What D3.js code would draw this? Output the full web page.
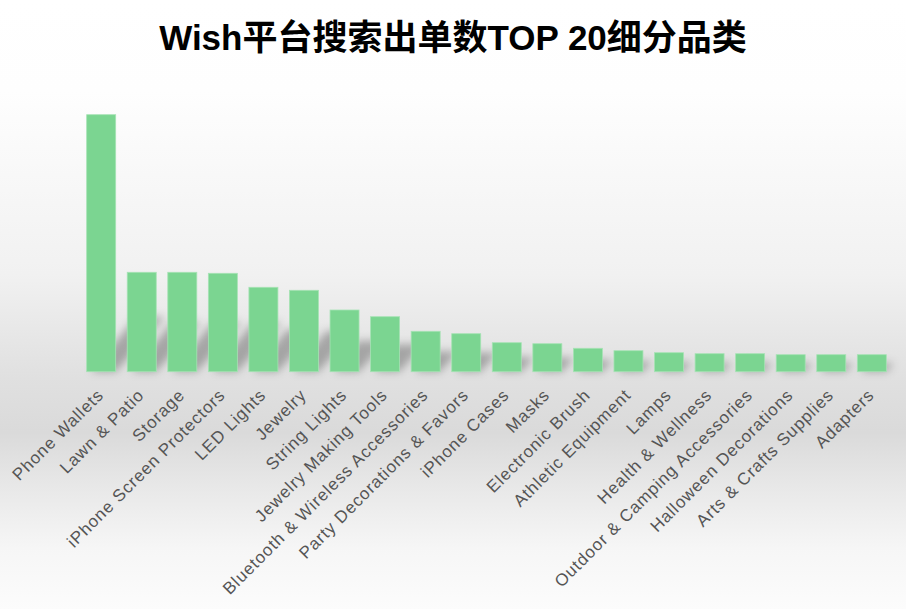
<!DOCTYPE html>
<html>
<head>
<meta charset="utf-8">
<script src="https://cdn.jsdelivr.net/npm/d3@7"></script>
<style>
  html, body { margin: 0; padding: 0; background: #fff; }
  svg { display: block; font-family: "Liberation Sans", Arial, "Noto Sans CJK SC", sans-serif; }
</style>
</head>
<body>
<script>
const width = 906;
const height = 609;

const titleText = "Wish平台搜索出单数TOP 20细分品类";

const categories = [
  "Phone Wallets", "Lawn & Patio", "Storage", "iPhone Screen Protectors", "LED Lights",
  "Jewelry", "String Lights", "Jewelry Making Tools", "Bluetooth & Wireless Accessories",
  "Party Decorations & Favors", "iPhone Cases", "Masks", "Electronic Brush",
  "Athletic Equipment", "Lamps", "Health & Wellness", "Outdoor & Camping Accessories",
  "Halloween Decorations", "Arts & Crafts Supplies", "Adapters"
];

// relative order counts
const orders = [
  2570, 994, 994, 984, 844,
  814, 617, 550, 404,
  380, 290, 280, 234,
  210, 190, 180, 180,
  170, 170, 170
];

const svg = d3.select("body")
  .append("svg").attr("width", width).attr("height", height);

const defs = svg.append("defs");

const bgGradient = defs.append("linearGradient")
  .attr("id", "bgGradient")
  .attr("x1", "0%").attr("y1", "0%")
  .attr("x2", "0%").attr("y2", "100%");
[
  [0, "#ffffff"], [0.15, "#fefefe"], [0.45, "#f1f1f1"], [0.62, "#e0e0e0"],
  [0.71, "#dadada"], [0.8, "#e8e8e8"], [0.9, "#f6f6f6"], [1, "#fcfcfc"]
].forEach(([o, c]) => {
  bgGradient.append("stop").attr("offset", o).attr("stop-color", c);
});

const blur = defs.append("filter")
  .attr("id", "shadowBlur")
  .attr("x", "-50%").attr("y", "-50%")
  .attr("width", "200%").attr("height", "200%");
blur.append("feGaussianBlur").attr("stdDeviation", 4);

svg.append("rect")
  .attr("width", width).attr("height", height)
  .attr("fill", "url(#bgGradient)");

const baseY = 371.7;
const topY = 114.7;

const x = d3.scaleBand()
  .domain(categories)
  .range([80.9, 892.1])
  .paddingInner(0.285)
  .paddingOuter(0.1425);

const y = d3.scaleLinear()
  .domain([0, d3.max(orders)])
  .range([baseY, topY]);

// cast shadows behind the bars
svg.append("g")
  .attr("filter", "url(#shadowBlur)")
  .selectAll("path")
  .data(categories)
  .join("path")
  .attr("fill", "#000")
  .attr("opacity", 0.28)
  .attr("d", (d, i) => {
    const h = Math.min(baseY - y(orders[i]), 110);
    const x0 = x(d);
    const w = x.bandwidth();
    const dx = h * 0.45;
    const dy = h * 0.5;
    return `M${x0 + 4},${baseY} L${x0 + w},${baseY} L${x0 + w + dx},${baseY - dy} L${x0 + dx},${baseY - dy} Z`;
  });

svg.append("g")
  .selectAll("rect")
  .data(categories)
  .join("rect")
  .attr("x", d => x(d))
  .attr("y", (d, i) => y(orders[i]))
  .attr("width", x.bandwidth())
  .attr("height", (d, i) => baseY - y(orders[i]))
  .attr("fill", "#7bd591")
  .attr("stroke", "#a6e3b4")
  .attr("stroke-width", 0.8);

svg.append("g")
  .selectAll("text")
  .data(categories)
  .join("text")
  .attr("transform", d => `translate(${x(d) + x.bandwidth() / 2 - 5},${baseY + 16}) rotate(-45)`)
  .attr("text-anchor", "end")
  .attr("dy", "0.7em")
  .attr("font-size", 17)
  .attr("letter-spacing", 0.9)
  .attr("fill", "#555")
  .text(d => d);

svg.append("text")
  .attr("x", width / 2)
  .attr("y", 50)
  .attr("text-anchor", "middle")
  .attr("font-size", 35)
  .attr("font-weight", "bold")
  .attr("fill", "#000")
  .text(titleText);
</script>
</body>
</html>
